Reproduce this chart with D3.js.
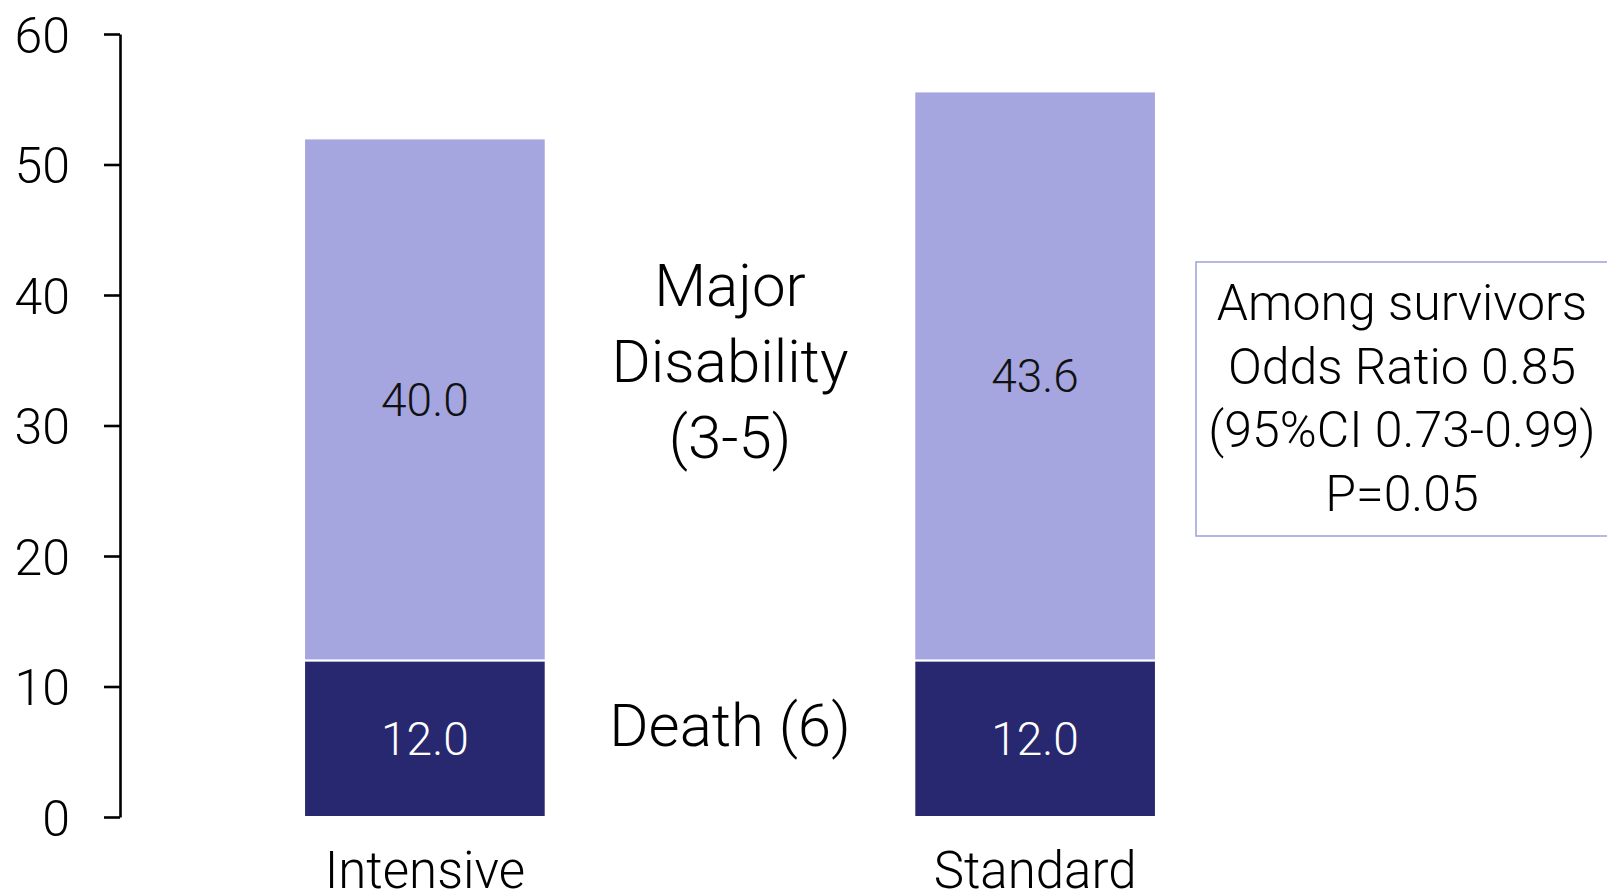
<!DOCTYPE html>
<html>
<head>
<meta charset="utf-8">
<script src="https://cdn.jsdelivr.net/npm/d3@7/dist/d3.min.js"></script>
<style>
  html, body { margin: 0; padding: 0; background: #fff; }
  svg { display: block; }
  text { font-family: Roboto, "Open Sans", sans-serif; font-weight: 300; fill: #000; }
</style>
</head>
<body>
<svg id="chart" width="1607" height="896"></svg>
<script>
// Outcome categories and stacked segment values (percent)
const groups = ["Intensive", "Standard"];
const deathValues = [12.0, 12.0];
const disabilityValues = [40.0, 43.6];
const yTicks = [0, 10, 20, 30, 40, 50, 60];
const segmentNames = ["Death (6)", "Major Disability (3-5)"];
const boxLines = ["Among survivors", "Odds Ratio 0.85", "(95%CI 0.73-0.99)", "P=0.05"];

const svg = d3.select("#chart");

const y = d3.scaleLinear().domain([0, 60]).range([817, 34]);
const x = d3.scaleBand().domain(groups).range([121, 1339]).paddingInner(0.604).paddingOuter(0.3);

// Y axis
const axis = d3.axisLeft(y).tickValues(yTicks).tickSize(16).tickSizeOuter(0).tickPadding(34);
const gAxis = svg.append("g").attr("transform", "translate(120,0)").call(axis);
gAxis.select(".domain").attr("stroke", "#000").attr("stroke-width", 2.6);
gAxis.selectAll(".tick line").attr("stroke", "#000").attr("stroke-width", 2.6);
gAxis.selectAll(".tick text")
  .attr("font-size", 50).attr("font-family", "Roboto, sans-serif").attr("font-weight", 300)
  .attr("fill", "#000").attr("dy", "0.36em");

// Stacked bars
const rows = groups.map((g, i) => ({ group: g, death: deathValues[i], disability: disabilityValues[i] }));
const stack = d3.stack().keys(["death", "disability"])(rows);
const colors = { death: "#282870", disability: "#A5A5DF" };
const labelColors = { death: "#ffffff", disability: "#111111" };

stack.forEach(layer => {
  const key = layer.key;
  const g = svg.append("g");
  g.selectAll("rect").data(layer).join("rect")
    .attr("x", d => x(d.data.group))
    .attr("width", x.bandwidth())
    .attr("y", d => y(d[1]))
    .attr("height", d => y(d[0]) - y(d[1]))
    .attr("fill", colors[key])
    .attr("stroke", "#ffffff")
    .attr("stroke-width", 2);
  g.selectAll("text").data(layer).join("text")
    .attr("x", d => x(d.data.group) + x.bandwidth() / 2)
    .attr("y", d => (y(d[0]) + y(d[1])) / 2)
    .attr("dy", "0.36em")
    .attr("text-anchor", "middle")
    .attr("font-size", 46)
    .style("fill", labelColors[key])
    .text(d => (d[1] - d[0]).toFixed(1));
});

// Category labels
svg.append("g").selectAll("text").data(groups).join("text")
  .attr("x", d => x(d) + x.bandwidth() / 2)
  .attr("y", 870)
  .attr("dy", "0.36em")
  .attr("text-anchor", "middle")
  .attr("font-size", 51)
  .text(d => d);

// Segment names between the bars
const midX = (x(groups[0]) + x.bandwidth() + x(groups[1])) / 2;
svg.append("text")
  .attr("x", midX).attr("y", 724).attr("dy", "0.36em")
  .attr("text-anchor", "middle").attr("font-size", 60)
  .text(segmentNames[0]);

const dis = svg.append("text").attr("text-anchor", "middle").attr("font-size", 60);
["Major", "Disability", "(3-5)"].forEach((t, i) => {
  dis.append("tspan").attr("x", midX).attr("y", 284 + i * 76).attr("dy", "0.36em").text(t);
});

// Odds ratio box
svg.append("rect")
  .attr("x", 1196).attr("y", 262).attr("width", 430).attr("height", 274)
  .attr("fill", "none").attr("stroke", "#A5A5DF").attr("stroke-width", 1.6);
const box = svg.append("text").attr("text-anchor", "middle").attr("font-size", 50);
boxLines.forEach((t, i) => {
  box.append("tspan").attr("x", 1402).attr("y", 302 + i * 63.5).attr("dy", "0.36em").text(t);
});
</script>
</body>
</html>
